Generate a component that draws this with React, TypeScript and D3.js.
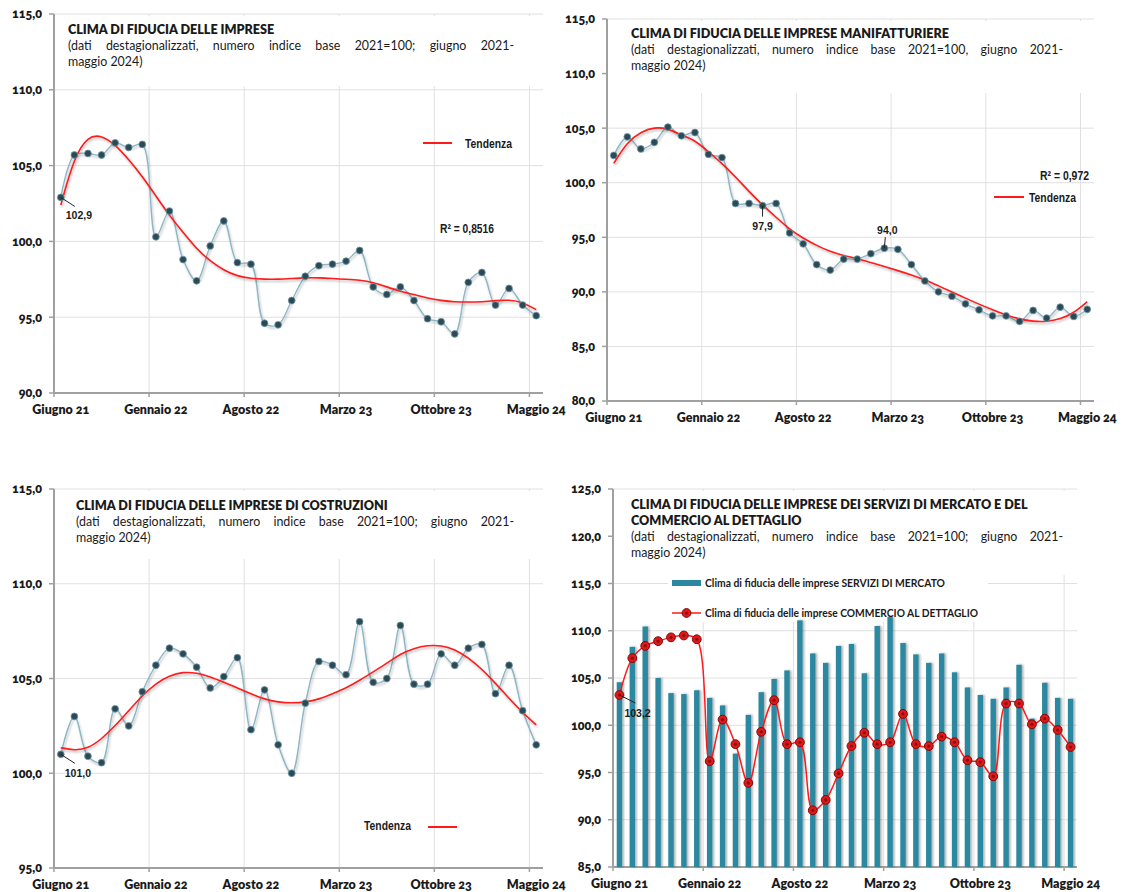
import React from "react";
import * as d3 from "d3";

// ---------- categories & ticks ----------
const months = [
  "giu 21", "lug 21", "ago 21", "set 21", "ott 21", "nov 21", "dic 21",
  "gen 22", "feb 22", "mar 22", "apr 22", "mag 22", "giu 22", "lug 22", "ago 22", "set 22", "ott 22", "nov 22", "dic 22",
  "gen 23", "feb 23", "mar 23", "apr 23", "mag 23", "giu 23", "lug 23", "ago 23", "set 23", "ott 23", "nov 23", "dic 23",
  "gen 24", "feb 24", "mar 24", "apr 24", "mag 24",
];
const tickMonths = ["giu 21", "gen 22", "ago 22", "mar 23", "ott 23", "mag 24"];
const tickLabels = ["Giugno 21", "Gennaio 22", "Agosto 22", "Marzo 23", "Ottobre 23", "Maggio 24"];

// ---------- panel 1: imprese ----------
const impreseValues = [102.9, 105.7, 105.8, 105.7, 106.5, 106.2, 106.4, 100.3, 102.0, 98.8, 97.4, 99.7, 101.35, 98.6, 98.5, 94.6, 94.5, 96.1, 97.7, 98.4, 98.5, 98.7, 99.4, 97.0, 96.5, 97.0, 96.1, 94.9, 94.7, 93.9, 97.3, 97.95, 95.8, 96.9, 95.8, 95.1];
const impreseTrend = [102.4, 105.6, 106.95, 107.0, 106.4, 105.4, 104.3, 103.0, 101.7, 100.6, 99.5, 98.7, 98.1, 97.7, 97.55, 97.5, 97.5, 97.55, 97.6, 97.6, 97.55, 97.5, 97.45, 97.3, 97.0, 96.7, 96.5, 96.25, 96.1, 96.0, 96.0, 96.0, 96.1, 96.15, 96.0, 95.5];
const impreseTicks = [90, 95, 100, 105, 110, 115];

// ---------- panel 2: manifatturiere ----------
const manifValues = [102.5, 104.2, 103.1, 103.7, 105.1, 104.3, 104.6, 102.6, 102.3, 98.1, 98.1, 97.9, 98.1, 95.4, 94.4, 92.5, 92.0, 93.0, 93.0, 93.5, 94.0, 93.9, 92.5, 91.0, 90.0, 89.6, 88.9, 88.35, 87.8, 87.8, 87.3, 88.3, 87.6, 88.6, 87.75, 88.4];
const manifTrend = [101.77, 103.75, 104.66, 105.09, 104.97, 104.36, 103.9, 102.84, 101.77, 100.55, 99.18, 97.96, 96.83, 95.73, 94.91, 94.24, 93.69, 93.32, 93.05, 92.68, 92.32, 91.95, 91.55, 91.1, 90.55, 90.0, 89.42, 88.87, 88.35, 87.87, 87.5, 87.29, 87.26, 87.5, 88.05, 89.1];
const manifTicks = [80, 85, 90, 95, 100, 105, 110, 115];

// ---------- panel 3: costruzioni ----------
const costrValues = [101.0, 103.0, 100.9, 100.56, 103.4, 102.5, 104.3, 105.7, 106.6, 106.3, 105.6, 104.5, 105.1, 106.1, 102.3, 104.4, 101.5, 100.0, 103.7, 105.9, 105.7, 105.2, 108.0, 104.8, 105.0, 107.8, 104.7, 104.7, 106.3, 105.7, 106.6, 106.8, 104.2, 105.7, 103.3, 101.5];
const costrTrend = [101.35, 101.2, 101.3, 101.8, 102.5, 103.3, 104.1, 104.75, 105.15, 105.35, 105.3, 105.1, 104.8, 104.5, 104.2, 103.9, 103.75, 103.7, 103.75, 103.9, 104.2, 104.5, 104.9, 105.35, 105.8, 106.3, 106.6, 106.75, 106.75, 106.55, 106.1, 105.5, 104.75, 103.95, 103.2, 102.55];
const costrTicks = [95, 100, 105, 110, 115];

// ---------- panel 4: servizi & commercio ----------
const serviziValues = [104.55, 108.3, 110.45, 105.0, 103.4, 103.3, 103.7, 102.9, 102.1, 97.0, 101.1, 103.5, 104.9, 105.8, 111.1, 107.6, 106.6, 108.4, 108.6, 105.5, 110.5, 111.45, 108.7, 107.5, 106.6, 107.6, 105.6, 104.0, 103.2, 102.8, 104.0, 106.4, 100.7, 104.5, 102.9, 102.8];
const commercioValues = [103.2, 107.1, 108.4, 108.9, 109.3, 109.5, 109.1, 96.2, 100.6, 98.0, 93.9, 99.3, 102.65, 98.0, 98.2, 91.0, 92.1, 94.9, 97.8, 99.2, 98.0, 98.2, 101.2, 98.0, 97.8, 98.8, 98.2, 96.3, 96.1, 94.6, 102.3, 102.3, 100.1, 100.7, 99.5, 97.7];
const servComTicks = [85, 90, 95, 100, 105, 110, 115, 120, 125];

const FONT = "Lato, 'Open Sans', sans-serif";
const NARROW = "'Liberation Sans Narrow', 'Liberation Sans', Arial, sans-serif";
const AXIS = "#a0a0a0";
const GRID = "#e0e0e0";
const TXT = "#1a1a1a";
const fmt = (v: number) => v.toFixed(1).replace(".", ",");

let measureCtx: CanvasRenderingContext2D | null = null;
function measure(text: string, font: string) {
  if (!measureCtx) measureCtx = document.createElement("canvas").getContext("2d");
  if (!measureCtx) return text.length * 6;
  measureCtx.font = font;
  return measureCtx.measureText(text).width;
}

type Box = { left: number; right: number; top: number; bottom: number; maskBottom: number };

function makeScales(box: Box, domain: [number, number]) {
  const x = d3.scaleBand<string>().domain(months).range([box.left, box.right]).padding(0);
  const y = d3.scaleLinear().domain(domain).range([box.bottom, box.top]);
  return { x, y };
}

function Frame({ box, x, y, ticks }: { box: Box; x: d3.ScaleBand<string>; y: d3.ScaleLinear<number, number>; ticks: number[] }) {
  const bw = x.bandwidth();
  return (
    <g>
      {ticks.map((t) => (
        <line key={"h" + t} x1={box.left} x2={box.right} y1={y(t)} y2={y(t)} stroke={GRID} strokeWidth={1} />
      ))}
      {tickMonths.slice(1).map((m) => (
        <line key={"v" + m} x1={x(m)!} x2={x(m)!} y1={box.top} y2={box.bottom} stroke={GRID} strokeWidth={1} />
      ))}
      <rect x={box.left + 1} y={box.top + 2} width={box.right - box.left + 2} height={box.maskBottom - box.top - 2} fill="#fff" />
      <line x1={box.left} x2={box.left} y1={box.top} y2={box.bottom} stroke={AXIS} strokeWidth={2} />
      <line x1={box.left} x2={box.right} y1={box.bottom} y2={box.bottom} stroke={AXIS} strokeWidth={2} />
      {ticks.map((t) => (
        <g key={"yt" + t}>
          <line x1={box.left - 5} x2={box.left} y1={y(t)} y2={y(t)} stroke={AXIS} strokeWidth={1.5} />
          <text x={box.left - 12} y={y(t)} dy="0.35em" textAnchor="end" fontFamily={FONT} fontWeight={800} fontSize={12.5} fill={TXT} style={{ fontVariantNumeric: "oldstyle-nums" }}>
            {fmt(t)}
          </text>
        </g>
      ))}
      {tickMonths.map((m, i) => (
        <g key={"xt" + m}>
          <line x1={x(m)!} x2={x(m)!} y1={box.bottom} y2={box.bottom + 4} stroke={AXIS} strokeWidth={1.5} />
          <text x={x(m)! + bw / 2} y={box.bottom + 21} textAnchor="middle" fontFamily={FONT} fontWeight={800} fontSize={12.5} fill={TXT} style={{ fontVariantNumeric: "oldstyle-nums" }}>
            {tickLabels[i]}
          </text>
        </g>
      ))}
    </g>
  );
}

function Justified({ x, y, width, text, size }: { x: number; y: number; width: number; text: string; size: number }) {
  const font = `400 ${size}px Lato, 'Open Sans', sans-serif`;
  const words = text.split(" ");
  const widths = words.map((w) => measure(w, font));
  const total = widths.reduce((a, b) => a + b, 0);
  const gap = words.length > 1 ? (width - total) / (words.length - 1) : 0;
  let cur = x;
  const pos = widths.map((w) => {
    const p = cur;
    cur += w + gap;
    return p;
  });
  return (
    <text y={y} fontFamily={FONT} fontSize={size} fill={TXT}>
      {words.map((w, i) => (
        <tspan key={i} x={pos[i]}>{w}</tspan>
      ))}
    </text>
  );
}

function Titles({ x, y, title, sub, subWidth }: { x: number; y: number; title: string[]; sub: string[]; subWidth: number }) {
  return (
    <g>
      {title.map((t, i) => (
        <text key={"t" + i} x={x} y={y + i * 16} fontFamily={FONT} fontWeight={800} fontSize={12.6} fill={TXT}>
          {t}
        </text>
      ))}
      {sub.map((t, i) =>
        i === 0 ? (
          <Justified key={"s" + i} x={x} y={y + title.length * 16 + i * 16} width={subWidth} text={t} size={12.4} />
        ) : (
          <text key={"s" + i} x={x} y={y + title.length * 16 + i * 16} fontFamily={FONT} fontSize={12.4} fill={TXT}>
            {t}
          </text>
        )
      )}
    </g>
  );
}

function NarrowText({ x, y, text, len, anchor }: { x: number; y: number; text: string; len: number; anchor?: string }) {
  return (
    <text x={x} y={y} textAnchor={anchor || "start"} fontFamily={NARROW} fontWeight={700} fontSize={13.5} fill={TXT} textLength={len} lengthAdjust="spacingAndGlyphs">
      {text}
    </text>
  );
}

function LinePanel({ box, domain, ticks, values, trend, children }: { box: Box; domain: [number, number]; ticks: number[]; values: number[]; trend: number[]; children?: any }) {
  const { x, y } = makeScales(box, domain);
  const bw = x.bandwidth();
  const cx = (i: number) => x(months[i])! + bw / 2;
  const dataLine = d3.line<number>().x((_, i) => cx(i)).y((d) => y(d)).curve(d3.curveCatmullRom.alpha(0.5));
  const trendLine = d3.line<number>().x((_, i) => cx(i)).y((d) => y(d)).curve(d3.curveBasis);
  return (
    <g>
      <Frame box={box} x={x} y={y} ticks={ticks} />
      <path d={dataLine(values)!} fill="none" stroke="#8db6c6" strokeWidth={1.4} filter="url(#shadow)" />
      <path d={trendLine(trend)!} fill="none" stroke="#ff1a1a" strokeWidth={1.6} filter="url(#shadow)" />
      {values.map((v, i) => (
        <circle key={i} cx={cx(i)} cy={y(v)} r={3.4} fill="#2c4a55" stroke="#6f98a6" strokeWidth={0.8} />
      ))}
      {children && children(x, y, cx)}
    </g>
  );
}

function App() {
  const box1: Box = { left: 54, right: 543, top: 14, bottom: 393, maskBottom: 86 };
  const box2: Box = { left: 607, right: 1094, top: 19, bottom: 401, maskBottom: 93 };
  const box3: Box = { left: 54, right: 543, top: 489, bottom: 868, maskBottom: 559 };
  const box4: Box = { left: 613, right: 1077, top: 489, bottom: 867, maskBottom: 575 };

  const s4 = makeScales(box4, [85, 125]);
  const bw4 = s4.x.bandwidth();
  const cx4 = (i: number) => s4.x(months[i])! + bw4 / 2;
  const barW = bw4 * 0.42;
  const comLine = d3.line<number>().x((_, i) => cx4(i)).y((d) => s4.y(d)).curve(d3.curveCatmullRom.alpha(0.5));

  return (
    <svg width={1129} height={892} style={{ position: "absolute", left: 0, top: 0, background: "#fff" }}>
      <defs>
        <filter id="shadow" x="-5%" y="-5%" width="110%" height="120%">
          <feDropShadow dx="1" dy="2" stdDeviation="1.2" floodColor="#000" floodOpacity="0.25" />
        </filter>
        <filter id="barshadow" x="-50%" y="-5%" width="200%" height="110%">
          <feDropShadow dx="1.5" dy="0" stdDeviation="0.8" floodColor="#000" floodOpacity="0.35" />
        </filter>
      </defs>
      <rect width={1129} height={892} fill="#fff" />

      {/* Panel 1 */}
      <LinePanel box={box1} domain={[90, 115]} ticks={impreseTicks} values={impreseValues} trend={impreseTrend}>
        {(x: any, y: any, cx: any) => (
          <g>
            <line x1={cx(0)} y1={y(impreseValues[0])} x2={cx(0) + 14} y2={y(impreseValues[0]) + 9} stroke="#222" strokeWidth={1} />
            <text x={cx(0) + 5} y={y(impreseValues[0]) + 22} fontFamily={NARROW} fontWeight={700} fontSize={10.5} fill={TXT}>{fmt(impreseValues[0])}</text>
            <line x1={423} x2={452} y1={143} y2={143} stroke="#ff1a1a" strokeWidth={2} />
            <NarrowText x={465} y={148} text="Tendenza" len={47} />
            <NarrowText x={440} y={233} text="R² = 0,8516" len={54} />
          </g>
        )}
      </LinePanel>
      <Titles
        x={68}
        y={34}
        title={["CLIMA DI FIDUCIA DELLE IMPRESE"]}
        sub={["(dati destagionalizzati, numero indice base 2021=100; giugno 2021-", "maggio 2024)"]}
        subWidth={446}
      />

      {/* Panel 2 */}
      <LinePanel box={box2} domain={[80, 115]} ticks={manifTicks} values={manifValues} trend={manifTrend}>
        {(x: any, y: any, cx: any) => (
          <g>
            <line x1={cx(11)} y1={y(manifValues[11])} x2={cx(11)} y2={y(manifValues[11]) + 11} stroke="#222" strokeWidth={1} />
            <text x={cx(11)} y={y(manifValues[11]) + 24} textAnchor="middle" fontFamily={NARROW} fontWeight={700} fontSize={10.5} fill={TXT}>{fmt(manifValues[11])}</text>
            <line x1={cx(20)} y1={y(manifValues[20])} x2={cx(20) + 1} y2={y(manifValues[20]) - 11} stroke="#222" strokeWidth={1} />
            <text x={cx(20) + 3} y={y(manifValues[20]) - 14} textAnchor="middle" fontFamily={NARROW} fontWeight={700} fontSize={10.5} fill={TXT}>{fmt(manifValues[20])}</text>
            <NarrowText x={1040} y={180} text="R² = 0,972" len={49} />
            <line x1={994} x2={1024} y1={197} y2={197} stroke="#ff1a1a" strokeWidth={2} />
            <NarrowText x={1029} y={202} text="Tendenza" len={47} />
          </g>
        )}
      </LinePanel>
      <Titles
        x={631}
        y={38}
        title={["CLIMA DI FIDUCIA DELLE IMPRESE MANIFATTURIERE"]}
        sub={["(dati destagionalizzati, numero indice base 2021=100, giugno 2021-", "maggio 2024)"]}
        subWidth={432}
      />

      {/* Panel 3 */}
      <LinePanel box={box3} domain={[95, 115]} ticks={costrTicks} values={costrValues} trend={costrTrend}>
        {(x: any, y: any, cx: any) => (
          <g>
            <line x1={cx(0)} y1={y(costrValues[0])} x2={cx(0) + 14} y2={y(costrValues[0]) + 9} stroke="#222" strokeWidth={1} />
            <text x={cx(0) + 4} y={y(costrValues[0]) + 23} fontFamily={NARROW} fontWeight={700} fontSize={10.5} fill={TXT}>{fmt(costrValues[0])}</text>
            <NarrowText x={364} y={830} text="Tendenza" len={47} />
            <line x1={428} x2={457} y1={827} y2={827} stroke="#ff1a1a" strokeWidth={2} />
          </g>
        )}
      </LinePanel>
      <Titles
        x={76}
        y={510}
        title={["CLIMA DI FIDUCIA DELLE IMPRESE DI COSTRUZIONI"]}
        sub={["(dati destagionalizzati, numero indice base 2021=100; giugno 2021-", "maggio 2024)"]}
        subWidth={438}
      />

      {/* Panel 4 */}
      <g>
        <Frame box={box4} x={s4.x} y={s4.y} ticks={servComTicks} />
        <rect x={668} y={574} width={320} height={48} fill="#fff" />
        {serviziValues.map((v, i) => (
          <rect key={"b" + i} x={cx4(i) - barW / 2} y={s4.y(v)} width={barW} height={s4.y(85) - s4.y(v)} fill="#2b88a0" filter="url(#barshadow)" />
        ))}
        <path d={comLine(commercioValues)!} fill="none" stroke="#ff1a1a" strokeWidth={1.5} />
        {commercioValues.map((v, i) => (
          <g key={"c" + i}>
            <circle cx={cx4(i)} cy={s4.y(v)} r={4.4} fill="#e01818" stroke="#7a0d0d" strokeWidth={1} />
            <circle cx={cx4(i)} cy={s4.y(v)} r={1.6} fill="#8a1010" />
          </g>
        ))}
        <line x1={cx4(0)} y1={s4.y(commercioValues[0])} x2={cx4(0) + 16} y2={s4.y(commercioValues[0]) + 8} stroke="#222" strokeWidth={1} />
        <text x={cx4(0) + 5} y={s4.y(commercioValues[0]) + 22} fontFamily={NARROW} fontWeight={700} fontSize={10.5} fill={TXT}>{fmt(commercioValues[0])}</text>
        {/* legend */}
        <rect x={672} y={580} width={29} height={6} fill="#2b88a0" />
        <text x={705} y={587} fontFamily={FONT} fontWeight={700} fontSize={11} fill={TXT} textLength={240} lengthAdjust="spacingAndGlyphs">
          Clima di fiducia delle imprese SERVIZI DI MERCATO
        </text>
        <line x1={672} x2={701} y1={613} y2={613} stroke="#ff1a1a" strokeWidth={1.5} />
        <circle cx={686.5} cy={613} r={4.4} fill="#e01818" stroke="#7a0d0d" strokeWidth={1} />
        <circle cx={686.5} cy={613} r={1.6} fill="#8a1010" />
        <text x={705} y={617} fontFamily={FONT} fontWeight={700} fontSize={11} fill={TXT} textLength={273} lengthAdjust="spacingAndGlyphs">
          Clima di fiducia delle imprese COMMERCIO AL DETTAGLIO
        </text>
      </g>
      <Titles
        x={631}
        y={509}
        title={["CLIMA DI FIDUCIA DELLE IMPRESE DEI SERVIZI DI MERCATO E DEL", "COMMERCIO AL DETTAGLIO"]}
        sub={["(dati destagionalizzati, numero indice base 2021=100; giugno 2021-", "maggio 2024)"]}
        subWidth={432}
      />
    </svg>
  );
}

export default App;
